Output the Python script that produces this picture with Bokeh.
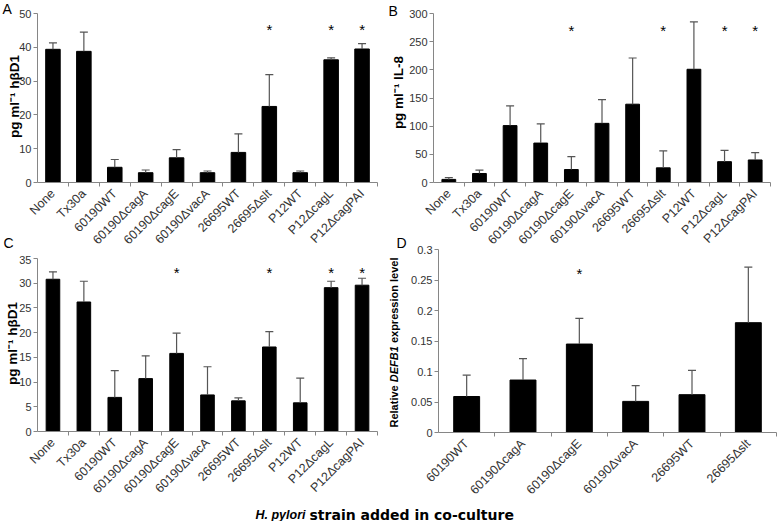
import math
from bokeh.plotting import figure
from bokeh.models import (ColumnDataSource, FixedTicker, Range1d, Label, GridBox,
                          Whisker, TeeHead, NumeralTickFormatter)
from bokeh.embed import file_html
from bokeh.resources import INLINE
from bokeh.core.properties import value

# ---------------- data ----------------
strains_all = ["None", "Tx30a", "60190WT", "60190ΔcagA", "60190ΔcagE", "60190ΔvacA",
               "26695WT", "26695Δslt", "P12WT", "P12ΔcagL", "P12ΔcagPAI"]
strains_d = ["60190WT", "60190ΔcagA", "60190ΔcagE", "60190ΔvacA", "26695WT", "26695Δslt"]

# A: pg/ml hBD1
a_mean = [39.4, 38.8, 4.5, 2.9, 7.3, 2.9, 8.9, 22.5, 2.9, 36.3, 39.5]
a_err = [1.9, 5.7, 2.3, 0.8, 2.4, 0.5, 5.5, 9.4, 0.5, 0.6, 1.6]
a_sig = [0, 0, 0, 0, 0, 0, 0, 1, 0, 1, 1]
a_ticks = [0, 10, 20, 30, 40, 50]

# B: pg/ml IL-8
b_mean = [5.5, 16, 101, 70, 23, 105, 139, 26, 201, 37, 40]
b_err = [3, 6, 35, 34, 23, 42, 82, 30, 84, 20, 13]
b_sig = [0, 0, 0, 0, 1, 0, 0, 1, 0, 1, 1]
b_ticks = [0, 50, 100, 150, 200, 250, 300]

# C: pg/ml hBD1
c_mean = [30.8, 26.2, 6.9, 10.7, 15.8, 7.4, 6.2, 17.1, 5.8, 29.1, 29.6]
c_err = [1.5, 4.2, 5.4, 4.6, 4.1, 5.7, 0.6, 3.1, 5.0, 1.3, 1.4]
c_sig = [0, 0, 0, 0, 1, 0, 0, 1, 0, 1, 1]
c_ticks = [0, 5, 10, 15, 20, 25, 30, 35]

# D: relative DEFB1 expression
d_mean = [0.059, 0.086, 0.145, 0.051, 0.062, 0.180]
d_err = [0.035, 0.035, 0.042, 0.026, 0.040, 0.091]
d_sig = [0, 0, 1, 0, 0, 0]
d_ticks = [0, 0.05, 0.1, 0.15, 0.2, 0.25, 0.3]

# ---------------- style ----------------
FONT = "Liberation Sans"
AXIS_GREY = "#868686"
TICK_TEXT = "#333333"
ERR_COL = "#555555"


def make_panel(names, means, errs, sig, y_ticks, width, height, left, right, top, bottom,
               bar_w, star_frac, x_font="12.5px", y_font="11px", transparent=False, fmt=None):
    n = len(names)
    ymax = y_ticks[-1]
    p = figure(width=width, height=height, x_range=Range1d(0, n), y_range=Range1d(0, ymax),
               output_backend="svg", toolbar_location=None,
               min_border_left=left, min_border_right=right,
               min_border_top=top, min_border_bottom=bottom)
    p.frame_align = False
    p.outline_line_color = None
    p.grid.visible = False
    if transparent:
        p.border_fill_color = None
        p.background_fill_color = None

    xs = [i + 0.5 for i in range(n)]
    src = ColumnDataSource(dict(x=xs, top=means, upper=[m + e for m, e in zip(means, errs)]))
    p.vbar(x="x", top="top", width=bar_w, source=src, fill_color="black", line_color="black")
    w = Whisker(base="x", lower="top", upper="upper", source=src, dimension="height",
                line_color=ERR_COL, line_width=1.2,
                upper_head=TeeHead(size=8, line_color=ERR_COL, line_width=1.2),
                lower_head=None, level="overlay")
    p.add_layout(w)

    sx = [x for x, s in zip(xs, sig) if s]
    ssrc = ColumnDataSource(dict(x=sx, y=[ymax * star_frac] * len(sx), t=["*"] * len(sx)))
    p.text(x="x", y="y", text="t", source=ssrc, text_font=value(FONT),
           text_font_size=value("15px"), text_align="center", text_baseline="alphabetic",
           text_color="black")

    xa = p.xaxis[0]
    xa.ticker = FixedTicker(ticks=xs, minor_ticks=list(range(1, n + 1)))
    xa.major_label_overrides = {x: nm for x, nm in zip(xs, names)}
    xa.major_label_orientation = math.pi / 4
    xa.major_tick_line_color = None
    xa.major_tick_out = 0
    xa.major_tick_in = 0
    xa.minor_tick_line_color = AXIS_GREY
    xa.minor_tick_out = 4
    xa.minor_tick_in = 0
    xa.axis_line_color = AXIS_GREY
    xa.major_label_text_font = FONT
    xa.major_label_text_font_size = x_font
    xa.major_label_text_color = TICK_TEXT
    xa.major_label_standoff = 5

    ya = p.yaxis[0]
    ya.ticker = FixedTicker(ticks=y_ticks)
    if fmt is not None:
        ya.formatter = fmt
    ya.minor_tick_line_color = None
    ya.major_tick_out = 4
    ya.major_tick_in = 0
    ya.major_tick_line_color = AXIS_GREY
    ya.axis_line_color = AXIS_GREY
    ya.major_label_text_font = FONT
    ya.major_label_text_font_size = y_font
    ya.major_label_text_color = TICK_TEXT
    ya.major_label_standoff = 2
    return p


# ---------------- panels ----------------
pA = make_panel(strains_all, a_mean, a_err, a_sig, a_ticks, 385, 255, 37, 8, 13, 67, 0.47, 0.905)
pB = make_panel(strains_all, b_mean, b_err, b_sig, b_ticks, 392, 255, 48, 7, 13, 67, 0.45, 0.900)
pC = make_panel(strains_all, c_mean, c_err, c_sig, c_ticks, 385, 250, 37, 8, 3, 74, 0.44, 0.918)
pD = make_panel(strains_d, d_mean, d_err, d_sig, d_ticks, 392, 262, 53, 1, 6, 72, 0.46, 0.867,
                transparent=True, fmt=NumeralTickFormatter(format="0.[00]"))

# ---------------- overlay for panel letters and axis titles ----------------
pO = figure(width=777, height=521, x_range=Range1d(0, 777), y_range=Range1d(521, 0),
            output_backend="svg", toolbar_location=None, min_border=0,
            x_axis_location=None, y_axis_location=None)
pO.frame_align = False
pO.border_fill_color = None
pO.background_fill_color = None
pO.outline_line_color = None
pO.grid.visible = False


def put(txt, x, y, angle=0.0, align="left", baseline="middle", size="14px",
        style="normal", font=FONT):
    pO.add_layout(Label(x=x, y=y, text=txt, angle=angle, text_align=align,
                        text_baseline=baseline, text_font=font, text_font_style=style,
                        text_font_size=size, text_color="black"))


put("A", 2, 8)
put("B", 388, 10)
put("C", 3, 242)
put("D", 396, 242)
put("pg ml⁻¹ hβD1", 14, 96, angle=math.pi / 2, align="center", size="13.5px", style="bold")
put("pg ml⁻¹ IL-8", 398, 92, angle=math.pi / 2, align="center", size="13.5px", style="bold")
put("pg ml⁻¹ hβD1", 12, 343, angle=math.pi / 2, align="center", size="13.5px", style="bold")
for txt, style, y in [("Relative", "bold", 427), ("DEFB1", "bold italic", 381.8),
                      ("expression level", "bold", 342.6)]:
    put(txt, 393, y, angle=math.pi / 2, align="left", size="11px", style=style)
put("H. pylori", 305, 514, align="right", baseline="alphabetic", size="12.5px",
    style="bold italic")
put("strain added in co-culture", 309, 514, baseline="alphabetic", size="14px",
    style="bold", font="DejaVu Sans")

grid = GridBox(children=[(pA, 0, 0, 2, 1), (pB, 0, 1, 2, 1), (pC, 2, 0, 1, 1),
                         (pD, 1, 1, 2, 1), (pO, 0, 0, 4, 2)],
               rows=["243px", "12px", "250px", "16px"], cols=["385px", "392px"])

open("out.html", "w").write(file_html(grid, INLINE))
